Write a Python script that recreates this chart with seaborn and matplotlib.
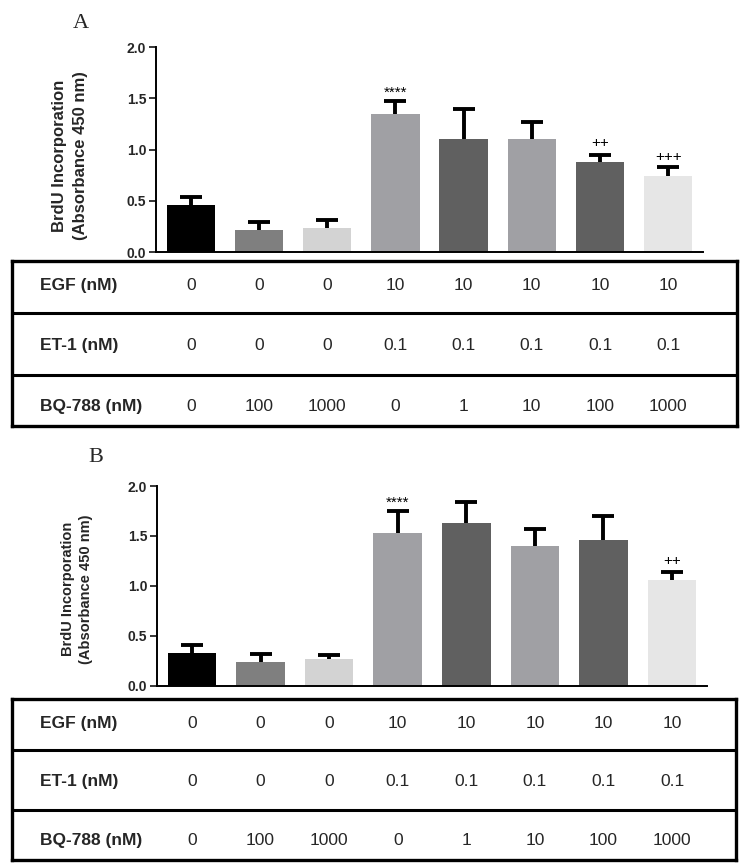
import matplotlib
matplotlib.use('Agg')
import matplotlib.pyplot as plt
import matplotlib.transforms as mtransforms
import seaborn as sns
import pandas as pd
import numpy as np

# data
groups = ['g1', 'g2', 'g3', 'g4', 'g5', 'g6', 'g7', 'g8']
bar_colors = ['#000000', '#7f7f7f', '#d3d3d3', '#a0a0a4', '#606060', '#a0a0a4', '#606060', '#e6e6e6']

mean_a = [0.46, 0.21, 0.23, 1.345, 1.105, 1.10, 0.88, 0.74]
sem_a = [0.075, 0.085, 0.08, 0.13, 0.295, 0.165, 0.07, 0.09]
mean_b = [0.325, 0.24, 0.267, 1.527, 1.627, 1.403, 1.457, 1.056]
sem_b = [0.083, 0.075, 0.038, 0.227, 0.213, 0.17, 0.24, 0.086]

# significance marks: (bar index, text, y in data units)
marks_a = [(3, '****', 1.55), (6, '++', 1.065), (7, '+++', 0.93)]
marks_b = [(3, '****', 1.83), (7, '++', 1.245)]

row_labels = ['EGF (nM)', 'ET-1 (nM)', 'BQ-788 (nM)']
egf = ['0', '0', '0', '10', '10', '10', '10', '10']
et1 = ['0', '0', '0', '0.1', '0.1', '0.1', '0.1', '0.1']
bq788 = ['0', '100', '1000', '0', '1', '10', '100', '1000']

ylabel = 'BrdU Incorporation\n(Absorbance 450 nm)'

sns.set_style('white')
plt.rcParams['font.family'] = ['Liberation Sans', 'DejaVu Sans']

W, H = 750, 865
fig = plt.figure(figsize=(W / 100, H / 100), dpi=100)


def px_box(left, top, right, bottom):
    return [left / W, 1 - bottom / H, (right - left) / W, (bottom - top) / H]


def draw_panel(ax_box, tab_box, means, sems, marks, letter, letter_xy, lab_xy, lab_size):
    ax = fig.add_axes(px_box(*ax_box))
    df = pd.DataFrame({'group': groups, 'value': means})
    sns.barplot(data=df, x='group', y='value', hue='group', palette=bar_colors,
                width=0.71, legend=False, ax=ax, saturation=1, linewidth=0)
    # upper-only error bars: stem + cap
    xs = np.arange(len(means))
    tops = np.array(means) + np.array(sems)
    ax.vlines(xs, means, tops, color='black', lw=2.8)
    ax.plot(xs, tops, ls='none', marker='_', markersize=16, mew=2.8, color='black')
    for i, txt, yv in marks:
        ax.text(i, yv, txt, ha='center', va='center', fontsize=11, color='black')
    ax.set_xlim(-0.51, 7.51)
    ax.set_ylim(0, 2.0)
    ax.set_yticks([0, 0.5, 1.0, 1.5, 2.0])
    ax.set_yticklabels(['0.0', '0.5', '1.0', '1.5', '2.0'], fontweight='bold', fontsize=10)
    ax.set_xticks([])
    ax.set_xlabel('')
    ax.set_ylabel('')
    ax.tick_params(axis='y', direction='out', length=5, width=1.3, left=True, pad=2)
    for s in ['top', 'right']:
        ax.spines[s].set_visible(False)
    for s in ['left', 'bottom']:
        ax.spines[s].set_linewidth(1.4)
        ax.spines[s].set_color('black')

    fig.text(lab_xy[0] / W, 1 - lab_xy[1] / H, ylabel, rotation=90, ha='center',
             va='center', multialignment='center', fontweight='bold', fontsize=lab_size,
             linespacing=1.45)
    fig.text(letter_xy[0] / W, 1 - letter_xy[1] / H, letter, family='Liberation Serif',
             fontsize=16, ha='left', va='center')

    # treatment table beneath the bars
    tab = fig.add_axes(px_box(*tab_box))
    tab.set_xlim(0, 1)
    tab.set_ylim(0, 1)
    tab.set_xticks([])
    tab.set_yticks([])
    for s in tab.spines.values():
        s.set_linewidth(2.4)
        s.set_color('black')
    for yv in [0.685, 0.31]:
        tab.axhline(yv, color='black', lw=2.2)
    trans = mtransforms.blended_transform_factory(ax.transData, tab.transAxes)
    row_y = [0.85, 0.485, 0.12]
    for lab, vals, yv in zip(row_labels, [egf, et1, bq788], row_y):
        tab.text(0.039, yv, lab, fontweight='bold', fontsize=12.5, ha='left', va='center')
        for i, v in enumerate(vals):
            tab.text(i, yv, v, transform=trans, fontsize=12.5, ha='center', va='center')
    return ax


draw_panel((156, 47, 703, 252), (11.5, 261, 737, 426), mean_a, sem_a, marks_a,
           'A', (73, 23), (70, 156), 12)
draw_panel((157, 486, 707, 685.7), (12, 699, 736, 860), mean_b, sem_b, marks_b,
           'B', (88, 457), (77, 589), 10.5)

fig.savefig('out.png', dpi=100)
plt.close(fig)
